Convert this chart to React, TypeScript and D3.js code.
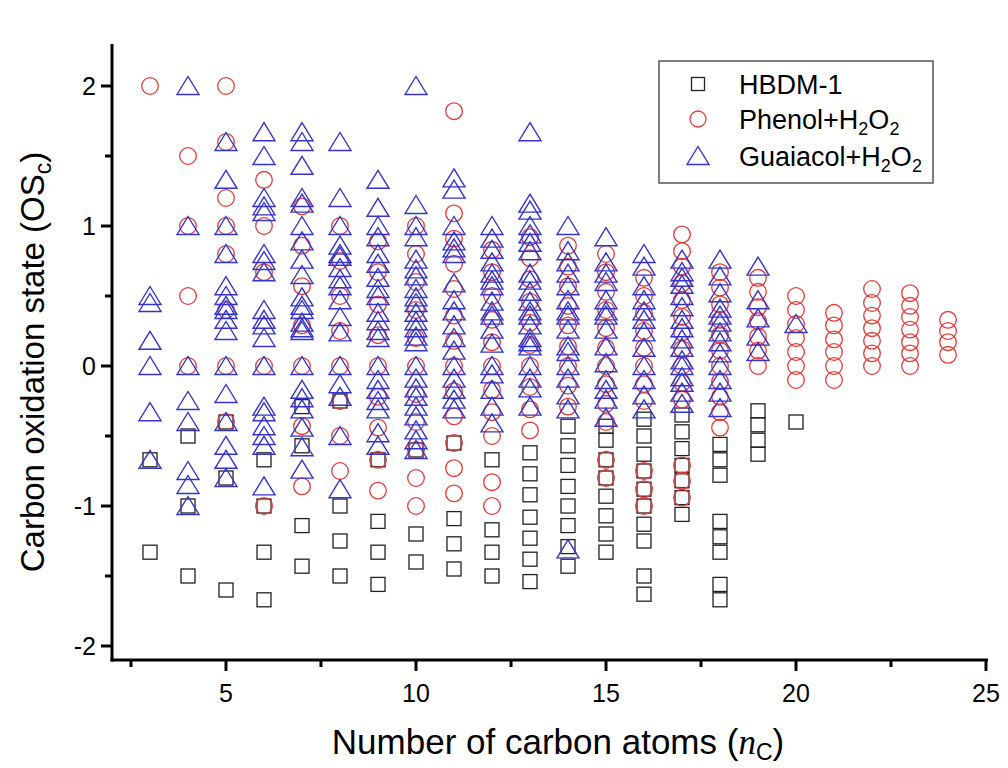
import React from "react";
import * as d3 from "d3";

// carbon number -> OSc values
const hbdm: [number, number[]][] = [
  [3, [-0.67, -1.33]],
  [4, [-0.5, -1.0, -1.5]],
  [5, [-0.4, -0.8, -1.6]],
  [6, [-0.67, -1.0, -1.33, -1.67]],
  [7, [-0.29, -0.57, -1.14, -1.43]],
  [8, [-0.25, -1.0, -1.25, -1.5]],
  [9, [-0.67, -1.11, -1.33, -1.56]],
  [10, [-0.6, -1.2, -1.4]],
  [11, [-0.55, -1.09, -1.27, -1.45]],
  [12, [-0.67, -1.17, -1.33, -1.5]],
  [13, [-0.62, -0.77, -0.92, -1.08, -1.23, -1.38, -1.54]],
  [14, [-0.43, -0.57, -0.71, -0.86, -1.0, -1.14, -1.29, -1.43]],
  [15, [-0.43, -0.53, -0.67, -0.8, -0.93, -1.07, -1.2, -1.33]],
  [16, [-0.38, -0.5, -0.63, -0.75, -0.88, -1.0, -1.13, -1.25, -1.5, -1.63]],
  [17, [-0.35, -0.47, -0.59, -0.71, -0.82, -0.94, -1.06]],
  [18, [-0.56, -0.67, -0.78, -1.11, -1.22, -1.33, -1.56, -1.67]],
  [19, [-0.32, -0.42, -0.53, -0.63]],
  [20, [-0.4]],
];

const phenol: [number, number[]][] = [
  [3, [2.0]],
  [4, [1.5, 1.0, 0.5, 0]],
  [5, [2.0, 1.6, 1.2, 1.0, 0.8, 0.4, 0, -0.4]],
  [6, [1.33, 1.0, 0.67, 0, -1.0]],
  [7, [1.14, 0.86, 0.57, 0.29, 0, -0.43, -0.86]],
  [8, [1.0, 0.75, 0.5, 0.25, 0, -0.25, -0.5, -0.75]],
  [9, [0.89, 0.67, 0.44, 0.22, 0, -0.22, -0.44, -0.67, -0.89]],
  [10, [1.0, 0.8, 0.6, 0.4, 0.2, 0, -0.2, -0.4, -0.6, -0.8, -1.0]],
  [11, [1.82, 1.09, 0.91, 0.73, 0.55, 0.36, 0.18, 0, -0.18, -0.36, -0.55, -0.73, -0.91]],
  [12, [0.83, 0.67, 0.5, 0.33, 0.17, 0, -0.17, -0.33, -0.5, -0.83, -1.0]],
  [13, [0.92, 0.77, 0.62, 0.46, 0.31, 0.15, 0, -0.15, -0.31, -0.46]],
  [14, [0.86, 0.71, 0.57, 0.43, 0.29, 0.14, 0, -0.14, -0.29]],
  [15, [0.8, 0.67, 0.53, 0.4, 0.27, 0.13, 0, -0.13, -0.27, -0.4, -0.67, -0.8]],
  [16, [0.63, 0.5, 0.38, 0.25, 0.13, 0, -0.13, -0.25, -0.75, -0.88, -1.0]],
  [17, [0.94, 0.82, 0.71, 0.59, 0.47, 0.35, 0.24, 0.12, 0, -0.12, -0.24, -0.71, -0.82, -0.94]],
  [18, [0.67, 0.56, 0.44, 0.33, 0.22, 0.11, 0, -0.11, -0.22, -0.33, -0.44]],
  [19, [0.63, 0.53, 0.42, 0.32, 0.21, 0.11, 0]],
  [20, [0.5, 0.4, 0.3, 0.2, 0.1, 0, -0.1]],
  [21, [0.38, 0.29, 0.19, 0.1, 0, -0.1]],
  [22, [0.55, 0.45, 0.36, 0.27, 0.18, 0.09, 0]],
  [23, [0.52, 0.43, 0.35, 0.26, 0.17, 0.09, 0]],
  [24, [0.33, 0.25, 0.17, 0.08]],
];

const guaiacol: [number, number[]][] = [
  [3, [0.5, 0.45, 0.18, 0, -0.33, -0.67]],
  [4, [2.0, 1.0, 0, -0.25, -0.4, -0.75, -0.85, -1.0]],
  [5, [1.6, 1.33, 1.0, 0.8, 0.57, 0.5, 0.43, 0.4, 0.33, 0.25, 0, -0.2, -0.4, -0.57, -0.67, -0.8]],
  [6, [1.67, 1.5, 1.2, 1.14, 1.1, 0.8, 0.75, 0.67, 0.4, 0.33, 0.29, 0.2, 0, -0.29, -0.33, -0.43, -0.5, -0.57, -0.86]],
  [7, [1.67, 1.6, 1.43, 1.2, 1.16, 1.0, 0.89, 0.76, 0.65, 0.49, 0.43, 0.4, 0.31, 0.27, 0.25, 0, -0.17, -0.23, -0.31, -0.44, -0.58, -0.74]],
  [8, [1.6, 1.2, 1.0, 0.86, 0.8, 0.78, 0.7, 0.62, 0.57, 0.47, 0.35, 0.24, 0, -0.13, -0.22, -0.5, -0.88]],
  [9, [1.33, 1.13, 1.0, 0.92, 0.8, 0.73, 0.63, 0.55, 0.5, 0.38, 0.32, 0.25, 0.2, 0, -0.1, -0.17, -0.25, -0.31, -0.48, -0.57]],
  [10, [2.0, 1.15, 1.0, 0.92, 0.76, 0.69, 0.64, 0.55, 0.49, 0.45, 0.38, 0.32, 0.27, 0.21, 0.17, 0, -0.09, -0.16, -0.22, -0.29, -0.36, -0.46, -0.53, -0.6]],
  [11, [1.34, 1.26, 1.0, 0.89, 0.84, 0.8, 0.59, 0.47, 0.39, 0.29, 0.2, 0.11, 0, -0.09, -0.17, -0.24, -0.31]],
  [12, [1.0, 0.91, 0.83, 0.74, 0.66, 0.61, 0.57, 0.46, 0.39, 0.36, 0.26, 0.16, 0, -0.06, -0.17, -0.29, -0.41]],
  [13, [1.67, 1.16, 1.11, 1.0, 0.94, 0.88, 0.82, 0.66, 0.61, 0.53, 0.46, 0.39, 0.36, 0.29, 0.2, 0.17, 0.14, 0, -0.09, -0.16, -0.29]],
  [14, [1.0, 0.82, 0.74, 0.66, 0.57, 0.47, 0.39, 0.36, 0.26, 0.14, 0.1, 0, -0.09, -0.21, -0.31, -1.31]],
  [15, [0.92, 0.74, 0.66, 0.6, 0.47, 0.39, 0.36, 0.26, 0.14, 0.02, -0.1, -0.17, -0.24, -0.37]],
  [16, [0.8, 0.71, 0.57, 0.47, 0.39, 0.33, 0.24, 0.13, 0, -0.1, -0.21, -0.31]],
  [17, [0.76, 0.67, 0.63, 0.58, 0.5, 0.42, 0.33, 0.27, 0.19, 0.13, 0.04, 0, -0.08, -0.12, -0.19, -0.27]],
  [18, [0.76, 0.64, 0.52, 0.41, 0.36, 0.31, 0.24, 0.17, 0.09, 0, -0.1, -0.19, -0.3]],
  [19, [0.71, 0.47, 0.34, 0.21, 0.1]],
  [20, [0.3]],
];

const xTicks = [5, 10, 15, 20, 25];
const yTicks = [-2, -1, 0, 1, 2];

const W = 1008;
const H = 768;
const font = "'Liberation Sans', Arial, sans-serif";

const flat = (s: [number, number[]][]) =>
  s.flatMap(([n, vals]) => vals.map((v) => ({ n, v })));

const sq = 14;
const tri = (cx: number, cy: number) =>
  `M${cx},${cy - 9.5}L${cx + 11},${cy + 8.5}L${cx - 11},${cy + 8.5}Z`;

export default function App() {
  const x = d3.scaleLinear().domain([2, 25]).range([112, 986]);
  const y = d3.scaleLinear().domain([-2.1, 2.3]).range([660, 44]);
  const xMinor = d3.range(2.5, 25, 5);
  const yMinor = d3.range(-1.5, 2.3, 1);

  return (
    <svg width={W} height={H} style={{ position: "absolute", left: 0, top: 0, background: "#fff" }}>
      <g fill="none">
        {flat(hbdm).map((d, i) => (
          <rect key={"s" + i} x={x(d.n) - sq / 2} y={y(d.v) - sq / 2} width={sq} height={sq}
            stroke="#222" strokeWidth={1.3} />
        ))}
        {flat(phenol).map((d, i) => (
          <circle key={"c" + i} cx={x(d.n)} cy={y(d.v)} r={8.3} stroke="#e33b3b" strokeWidth={1.3} />
        ))}
        {flat(guaiacol).map((d, i) => (
          <path key={"t" + i} d={tri(x(d.n), y(d.v))} stroke="#3434c8" strokeWidth={1.4} />
        ))}
      </g>

      {/* axes */}
      <g stroke="#000" strokeWidth={3}>
        <line x1={112} x2={112} y1={y.range()[1]} y2={661.5} />
        <line x1={110.5} x2={x(25) + 2} y1={660} y2={660} />
        {xTicks.map((t) => (
          <line key={"xt" + t} x1={x(t)} x2={x(t)} y1={660} y2={671} />
        ))}
        {xMinor.map((t) => (
          <line key={"xm" + t} x1={x(t)} x2={x(t)} y1={660} y2={667} />
        ))}
        {yTicks.map((t) => (
          <line key={"yt" + t} x1={101} x2={112} y1={y(t)} y2={y(t)} />
        ))}
        {yMinor.map((t) => (
          <line key={"ym" + t} x1={105} x2={112} y1={y(t)} y2={y(t)} />
        ))}
      </g>
      <g fontFamily={font} fontSize={25} fill="#000">
        {xTicks.map((t) => (
          <text key={"xl" + t} x={x(t)} y={702} textAnchor="middle">{t}</text>
        ))}
        {yTicks.map((t) => (
          <text key={"yl" + t} x={96} y={y(t) + 9} textAnchor="end">{t}</text>
        ))}
      </g>

      <text x={558} y={754} textAnchor="middle" fontFamily={font} fontSize={35}>
        Number of carbon atoms (
        <tspan fontFamily="'Liberation Serif', 'Times New Roman', serif" fontStyle="italic">n</tspan>
        <tspan fontSize={23} dy={6}>C</tspan>
        <tspan dy={-6}>)</tspan>
      </text>
      <text transform="translate(44,362) rotate(-90)" textAnchor="middle" fontFamily={font} fontSize={33}>
        Carbon oxidation state (OS
        <tspan fontSize={23} dy={7}>c</tspan>
        <tspan dy={-7}>)</tspan>
      </text>

      {/* legend */}
      <g>
        <rect x={659} y={61} width={274} height={122} fill="#fff" stroke="#555" strokeWidth={1.5} />
        <rect x={698 - 6.5} y={84 - 6.5} width={13} height={13} fill="none" stroke="#222" strokeWidth={1.3} />
        <circle cx={698} cy={119} r={8} fill="none" stroke="#e33b3b" strokeWidth={1.3} />
        <path d={tri(698, 156)} fill="none" stroke="#3434c8" strokeWidth={1.4} />
        <g fontFamily={font} fontSize={27} fill="#000">
          <text x={739} y={94}>HBDM-1</text>
          <text x={739} y={129}>
            Phenol+H<tspan fontSize={18} dy={6}>2</tspan><tspan dy={-6}>O</tspan>
            <tspan fontSize={18} dy={6}>2</tspan>
          </text>
          <text x={739} y={166}>
            Guaiacol+H<tspan fontSize={18} dy={6}>2</tspan><tspan dy={-6}>O</tspan>
            <tspan fontSize={18} dy={6}>2</tspan>
          </text>
        </g>
      </g>
    </svg>
  );
}
